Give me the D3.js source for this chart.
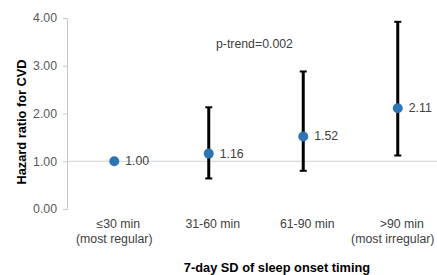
<!DOCTYPE html>
<html>
<head>
<meta charset="utf-8">
<script src="https://cdn.jsdelivr.net/npm/d3@7"></script>
<style>
  body { margin: 0; background: #fff; }
  text { font-family: "Liberation Sans", Arial, sans-serif; }
</style>
</head>
<body>
<div class="canvas"></div>
<script>
// data
const categories = ['≤30 min|(most regular)', '31-60 min', '61-90 min', '>90 min|(most irregular)'];
const hazard = [1.00, 1.16, 1.52, 2.11];
const lower = [null, 0.64, 0.80, 1.12];
const upper = [null, 2.13, 2.88, 3.92];
const yTicks = [0, 1, 2, 3, 4];

const dims = { width: 437, height: 275 };
const fs = '12.3px';   // regular text
const fsBold = '12.8px'; // axis titles

const svg = d3.select('.canvas')
  .append('svg')
  .attr('width', dims.width)
  .attr('height', dims.height);

const x = d3.scalePoint()
  .domain(categories)
  .range([67, 445])
  .padding(0.5);

const y = d3.scaleLinear()
  .domain([0, 4])
  .range([209, 18]);

// y axis
const yAxis = d3.axisLeft(y)
  .tickValues(yTicks)
  .tickFormat(d3.format('.2f'))
  .tickSize(4)
  .tickPadding(6);

const yg = svg.append('g')
  .attr('transform', 'translate(67,0)')
  .call(yAxis);
yg.select('.domain').attr('stroke', '#c8c8c8');
yg.selectAll('.tick line').attr('stroke', '#c8c8c8');
yg.selectAll('.tick text')
  .attr('fill', '#595959')
  .style('font-size', fs)
  .style('font-family', '"Liberation Sans", Arial, sans-serif');

// reference line at HR = 1
svg.append('line')
  .attr('x1', 67).attr('x2', dims.width)
  .attr('y1', y(1)).attr('y2', y(1))
  .attr('stroke', '#d0d0d0')
  .attr('stroke-width', 1);

// error bars
const bars = categories.map((c, i) => ({ c, lo: lower[i], hi: upper[i] }))
  .filter(d => d.lo != null);

const eb = svg.append('g');
eb.selectAll('line.bar')
  .data(bars).enter()
  .append('line')
    .attr('class', 'bar')
    .attr('x1', d => x(d.c)).attr('x2', d => x(d.c))
    .attr('y1', d => y(d.lo)).attr('y2', d => y(d.hi))
    .attr('stroke', '#000')
    .attr('stroke-width', 3);
['lo', 'hi'].forEach(k => {
  eb.selectAll('line.cap-' + k)
    .data(bars).enter()
    .append('line')
      .attr('class', 'cap-' + k)
      .attr('x1', d => x(d.c) - 3.5).attr('x2', d => x(d.c) + 3.5)
      .attr('y1', d => y(d[k])).attr('y2', d => y(d[k]))
      .attr('stroke', '#000')
      .attr('stroke-width', 2);
});

// points + labels
const pts = categories.map((c, i) => ({ c, v: hazard[i] }));
svg.selectAll('circle')
  .data(pts).enter()
  .append('circle')
    .attr('cx', d => x(d.c))
    .attr('cy', d => y(d.v))
    .attr('r', 5)
    .attr('fill', '#2e75b6');

svg.selectAll('text.lab')
  .data(pts).enter()
  .append('text')
    .attr('class', 'lab')
    .attr('x', d => x(d.c) + 11)
    .attr('y', d => y(d.v) + 4)
    .attr('fill', '#404040')
    .style('font-size', fs)
    .text(d => d.v.toFixed(2));

// x category labels (two lines where needed)
const xl = svg.selectAll('text.xcat')
  .data(categories).enter()
  .append('text')
    .attr('class', 'xcat')
    .attr('text-anchor', 'middle')
    .attr('fill', '#404040')
    .style('font-size', fs);
xl.each(function(d, i) {
  const lines = d.split('|');
  lines.forEach((t, j) => {
    // last label's second line is nudged in so it stays inside the page
    const dx = j === 0 ? 4 : (i === categories.length - 1 ? -5 : 0);
    d3.select(this).append('tspan')
      .attr('x', x(d) + dx)
      .attr('y', 228 + j * 15)
      .text(t);
  });
});

// annotation
svg.append('text')
  .attr('x', 216).attr('y', 48)
  .attr('fill', '#404040')
  .style('font-size', fs)
  .text('p-trend=0.002');

// axis titles
svg.append('text')
  .attr('x', 277).attr('y', 272)
  .attr('text-anchor', 'middle')
  .attr('font-weight', 'bold')
  .attr('fill', '#000')
  .style('font-size', fsBold)
  .text('7-day SD of sleep onset timing');

svg.append('text')
  .attr('transform', 'translate(26,122) rotate(-90)')
  .attr('text-anchor', 'middle')
  .attr('font-weight', 'bold')
  .attr('fill', '#000')
  .style('font-size', fsBold)
  .text('Hazard ratio for CVD');
</script>
</body>
</html>
